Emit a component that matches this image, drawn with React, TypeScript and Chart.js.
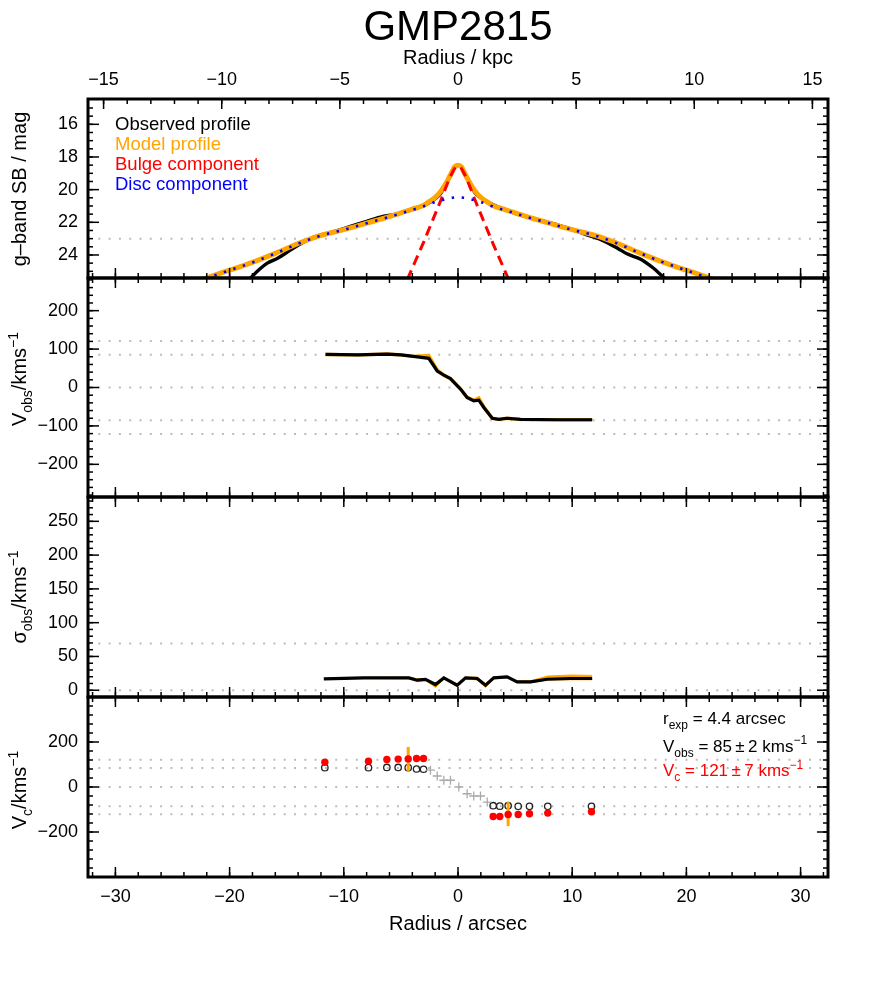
import React, { useEffect, useRef } from 'react';
import { Chart, registerables } from 'chart.js';

Chart.register(...registerables);

const FONT = '"Liberation Sans", Arial, Helvetica, sans-serif';

// ---------------- axes ----------------
const ARCSEC_MIN = -32.4;
const ARCSEC_MAX = 32.4;
const KPC_MIN = -15.66;
const KPC_MAX = 15.66;
const arcsecMajor = [-30, -20, -10, 0, 10, 20, 30];
const kpcMajor = [-15, -10, -5, 0, 5, 10, 15];
const sbMajor = [16, 18, 20, 22, 24];
const vobsMajor = [-200, -100, 0, 100, 200];
const sigmaMajor = [0, 50, 100, 150, 200, 250];
const vcMajor = [-200, 0, 200];

// ---------------- panel 1 : surface brightness ----------------
const sbModelRadius = [-23, -22, -20, -18, -16, -14, -12, -10, -8, -6, -5, -4, -3, -2.5, -2, -1.5, -1.25, -1, -0.7, -0.5, -0.3, 0, 0.3, 0.5, 0.7, 1, 1.25, 1.5, 2, 2.5, 3, 4, 5, 6, 8, 10, 12, 14, 16, 18, 20, 22, 23];
const sbModelMag = [25.62, 25.4, 24.93, 24.45, 23.9, 23.3, 22.8, 22.45, 22.05, 21.65, 21.42, 21.2, 20.95, 20.72, 20.48, 20.1, 19.85, 19.55, 19.15, 18.88, 18.6, 18.5, 18.6, 18.88, 19.15, 19.55, 19.85, 20.1, 20.48, 20.72, 20.95, 21.2, 21.42, 21.65, 22.05, 22.45, 22.8, 23.3, 23.9, 24.45, 24.93, 25.4, 25.62];
const sbDiscRadius = [-23, -22, -20, -18, -16, -14, -12, -10, -8, -6, -5, -4, -3, -2.5, -2, -1.5, -1, -0.5, 0, 0.5, 1, 1.5, 2, 2.5, 3, 4, 5, 6, 8, 10, 12, 14, 16, 18, 20, 22, 23];
const sbDiscMag = [25.63, 25.41, 24.94, 24.46, 23.91, 23.31, 22.81, 22.46, 22.06, 21.67, 21.45, 21.24, 21.02, 20.88, 20.76, 20.66, 20.57, 20.5, 20.47, 20.5, 20.57, 20.66, 20.76, 20.88, 21.02, 21.24, 21.45, 21.67, 22.06, 22.46, 22.81, 23.31, 23.91, 24.46, 24.94, 25.41, 25.63];
const sbBulgeRadius = [-5, -4.5, -4, -3.5, -3, -2.5, -2, -1.5, -1, -0.5, -0.25, 0, 0.25, 0.5, 1, 1.5, 2, 2.5, 3, 3.5, 4, 4.5, 5];
const sbBulgeMag = [26.4, 25.6, 24.8, 24.0, 23.2, 22.35, 21.5, 20.65, 19.75, 18.95, 18.66, 18.57, 18.66, 18.95, 19.75, 20.65, 21.5, 22.35, 23.2, 24.0, 24.8, 25.6, 26.4];
const sbObsRadius = [-18.6, -18.2, -17.5, -16.7, -15.8, -15, -14.4, -13.5, -12.6, -11, -10, -8.3, -6.8, -5.3, -4, -2.7, -2, -1.5, -1, -0.7, -0.5, -0.3, 0, 0.3, 0.5, 0.7, 1, 1.5, 2, 3, 4, 5, 6, 8, 9, 10, 11.3, 12.8, 14, 14.8, 16, 17.1, 18, 18.4];
const sbObsMag = [25.65, 25.43, 24.95, 24.5, 24.2, 23.85, 23.57, 23.2, 22.9, 22.6, 22.38, 22.0, 21.68, 21.48, 21.18, 20.88, 20.55, 20.22, 19.6, 19.2, 18.95, 18.62, 18.5, 18.62, 18.95, 19.2, 19.6, 20.2, 20.5, 20.9, 21.2, 21.45, 21.65, 22.02, 22.22, 22.45, 22.77, 23.15, 23.6, 23.93, 24.26, 24.8, 25.36, 25.6];
const sbRefLines = [23];

// ---------------- panel 2 : observed velocity ----------------
const velRadius = [-11.6, -8.8, -6.2, -5.0, -3.9, -2.56, -1.82, -1.24, -0.66, 0.22, 0.8, 1.38, 1.82, 2.26, 3.0, 3.57, 4.3, 5.47, 8.7, 11.75];
const velObs = [86, 85, 87, 85, 81, 76, 43, 32, 23, -4, -26, -35, -33, -52, -80, -83, -80, -83, -84, -84];
const velModel = [86, 85, 87, 85, 81, 83, 46, 32, 23, -4, -26, -33, -27, -50, -80, -83, -80, -83, -84, -84];
const velRefLines = [121, 85, 0, -85, -121];

// ---------------- panel 3 : velocity dispersion ----------------
const sigRadius = [-11.75, -8.25, -4.3, -3.57, -2.85, -1.97, -1.24, -0.07, 0.66, 1.68, 2.41, 3.13, 4.3, 5.18, 6.35, 7.81, 9.85, 11.75];
const sigObs = [16.8, 18.3, 18.3, 14.9, 16, 8.5, 18.3, 7.4, 18.3, 17.4, 7.4, 18.3, 19.8, 12.4, 12.4, 16.3, 17.4, 17.4];
const sigModelHigh = [17.5, 19, 19.5, 17, 17.5, 10, 19.5, 9, 19.5, 19.5, 9.5, 19.5, 21, 14, 14, 21, 22.5, 22];
const sigModelLow = [16, 17.5, 17, 12.5, 14.5, 4, 17, 5, 17.5, 15, 4, 17, 18.5, 11, 11, 15, 15.5, 15.5];
const sigRefLines = [69, 0];

// ---------------- panel 4 : circular velocity ----------------
const vcRadius = [-11.66, -7.84, -6.23, -5.24, -4.36, -3.63, -3.02, 3.08, 3.66, 4.39, 5.27, 6.26, 7.86, 11.69];
const vcValues = [110, 115, 122, 124, 125, 127, 127, -131, -131, -122, -122, -119, -116, -110];
const vcObsValues = [86, 86, 87, 87, 86, 80, 79, -83, -85, -83, -86, -86, -86, -86];
const innerRadius = [-2.41, -1.82, -1.24, -0.66, 0.07, 0.8, 1.38, 1.97, 2.56];
const innerValues = [75, 49, 30, 30, 0, -30, -40, -40, -67];
const rExpBarRadius = [-4.36, 4.39];
const rExpBarLow = [70, -174];
const rExpBarHigh = [178, -67];
const vcRefLines = [121, 85, 0, -85, -121];

// ---------------- helpers ----------------
type Seg = { t: string; s?: 'sub' | 'sup' };

const fmt = (v: number) => (v < 0 ? '\u2212' + Math.abs(v) : String(v));
const steps = (a: number, b: number, s: number) => {
  const out: number[] = [];
  for (let v = a; v <= b + 1e-9; v += s) out.push(Math.round(v * 1000) / 1000);
  return out;
};
const pts = (xs: number[], ys: number[]) => xs.map((x, i) => ({ x, y: ys[i] }));

function lineDs(data: any[], color: string, width: number, dash: number[] = [], extra: any = {}) {
  return {
    data,
    showLine: true,
    borderColor: color,
    backgroundColor: color,
    borderWidth: width,
    borderDash: dash,
    pointRadius: 0,
    pointHoverRadius: 0,
    tension: 0,
    fill: false,
    ...extra,
  };
}
const smooth = { cubicInterpolationMode: 'monotone' };
const refDs = (y: number) => lineDs(pts([ARCSEC_MIN, ARCSEC_MAX], [y, y]), '#bcbcbc', 2, [2, 8.3]);

function segFont(size: number, s?: string) {
  return `${s ? Math.round(size * 0.7) : size}px ${FONT}`;
}
function drawRich(ctx: CanvasRenderingContext2D, segs: Seg[], x: number, y: number, size: number, color: string, align: 'left' | 'center') {
  let w = 0;
  for (const g of segs) {
    ctx.font = segFont(size, g.s);
    w += ctx.measureText(g.t).width;
  }
  let cx = align === 'center' ? x - w / 2 : x;
  ctx.fillStyle = color;
  ctx.textAlign = 'left';
  ctx.textBaseline = 'alphabetic';
  for (const g of segs) {
    ctx.font = segFont(size, g.s);
    const dy = g.s === 'sub' ? size * 0.3 : g.s === 'sup' ? -size * 0.42 : 0;
    ctx.fillText(g.t, cx, y + dy);
    cx += ctx.measureText(g.t).width;
  }
}

type TextItem = { segs: Seg[]; x: number; y: number; size: number; color: string; align?: 'left' | 'center' };
type Deco = {
  top: number;
  yMajor: number[];
  yMinor: number[];
  kpcTop?: boolean;
  yTitle: Seg[];
  yTitleCy: number;
  texts?: TextItem[];
};

const arcsecMinor = steps(-32, 32, 2);
const kpcMinor = steps(-15, 15, 1);

function decoPlugin(d: Deco) {
  return {
    id: 'deco',
    afterDraw(chart: any) {
      const ctx: CanvasRenderingContext2D = chart.ctx;
      const a = chart.chartArea;
      const xs = chart.scales.x;
      const ys = chart.scales.y;
      ctx.save();
      ctx.strokeStyle = '#000';
      ctx.lineWidth = 1.5;
      const seg = (x1: number, y1: number, x2: number, y2: number) => {
        ctx.beginPath();
        ctx.moveTo(x1, y1);
        ctx.lineTo(x2, y2);
        ctx.stroke();
      };
      const yTick = (v: number, len: number) => {
        const p = ys.getPixelForValue(v);
        if (p < a.top + 1 || p > a.bottom - 1) return;
        seg(a.left, p, a.left + len, p);
        seg(a.right, p, a.right - len, p);
      };
      d.yMinor.forEach((v) => yTick(v, 5));
      d.yMajor.forEach((v) => yTick(v, 11));
      const xTick = (scale: any, v: number, len: number, edge: 'top' | 'bottom') => {
        const p = scale.getPixelForValue(v);
        if (p < a.left + 1 || p > a.right - 1) return;
        if (edge === 'bottom') seg(p, a.bottom, p, a.bottom - len);
        else seg(p, a.top, p, a.top + len);
      };
      arcsecMinor.forEach((v) => xTick(xs, v, 5, 'bottom'));
      arcsecMajor.forEach((v) => xTick(xs, v, 10, 'bottom'));
      if (d.kpcTop) {
        const ks = chart.scales.x2;
        kpcMinor.forEach((v) => xTick(ks, v, 5, 'top'));
        kpcMajor.forEach((v) => xTick(ks, v, 10, 'top'));
      } else {
        arcsecMinor.forEach((v) => xTick(xs, v, 5, 'top'));
        arcsecMajor.forEach((v) => xTick(xs, v, 10, 'top'));
      }
      ctx.lineWidth = 3;
      ctx.strokeRect(a.left, a.top, a.right - a.left, a.bottom - a.top);

      // y title (rotated)
      ctx.save();
      ctx.translate(26, d.yTitleCy - d.top);
      ctx.rotate(-Math.PI / 2);
      drawRich(ctx, d.yTitle, 0, 0, 20, '#000', 'center');
      ctx.restore();

      (d.texts || []).forEach((t) => drawRich(ctx, t.segs, t.x, t.y - d.top, t.size, t.color, t.align || 'left'));
      ctx.restore();
    },
  };
}

const zeroPad = (s: any) => {
  s.paddingTop = 0;
  s.paddingBottom = 0;
  s.paddingLeft = 0;
  s.paddingRight = 0;
};

function yScale(min: number, max: number, majors: number[], reverse = false) {
  return {
    type: 'linear',
    position: 'left',
    min,
    max,
    reverse,
    afterFit: (s: any) => {
      s.width = 70;
      zeroPad(s);
    },
    afterBuildTicks: (s: any) => {
      s.ticks = majors.map((v) => ({ value: v }));
    },
    ticks: { color: '#000', font: { family: FONT, size: 18 }, padding: 10, callback: (v: any) => fmt(Number(v)) },
    grid: { display: false, drawTicks: false },
    border: { display: false },
  };
}

const xHidden = { type: 'linear', min: ARCSEC_MIN, max: ARCSEC_MAX, display: false };

function baseOptions(padTop: number, padBottom: number, scales: any) {
  return {
    animation: false,
    responsive: false,
    maintainAspectRatio: false,
    events: [],
    layout: { padding: { left: 18, right: 44, top: padTop, bottom: padBottom } },
    plugins: { legend: { display: false }, tooltip: { enabled: false }, title: { display: false } },
    scales,
  };
}

// ---------------- chart configs ----------------
function cfgPanel1(): any {
  const top = 0;
  return {
    type: 'scatter',
    data: {
      datasets: [
        lineDs(pts(sbDiscRadius, sbDiscMag), '#0000ff', 2.6, [2.4, 7.6], smooth),
        lineDs(pts(sbBulgeRadius, sbBulgeMag), '#ff0000', 3, [10, 6], smooth),
        lineDs(pts(sbModelRadius, sbModelMag), '#ffa500', 5, [], smooth),
        lineDs(pts(sbObsRadius, sbObsMag), '#000000', 3.4, [], smooth),
        ...sbRefLines.map(refDs),
      ],
    },
    options: baseOptions(40, 12, {
      x: xHidden,
      x2: {
        type: 'linear',
        position: 'top',
        min: KPC_MIN,
        max: KPC_MAX,
        afterFit: (s: any) => {
          s.height = 59;
          zeroPad(s);
        },
        afterBuildTicks: (s: any) => {
          s.ticks = kpcMajor.map((v) => ({ value: v }));
        },
        ticks: { color: '#000', font: { family: FONT, size: 18 }, padding: 8, maxRotation: 0, callback: (v: any) => fmt(Number(v)) },
        grid: { display: false, drawTicks: false },
        border: { display: false },
        title: { display: true, text: 'Radius / kpc', color: '#000', font: { family: FONT, size: 20 }, padding: { top: 6, bottom: 0 } },
      },
      y: yScale(14.45, 25.41, sbMajor, true),
    }),
    plugins: [
      decoPlugin({
        top,
        yMajor: sbMajor,
        yMinor: steps(15, 25, 0.5),
        kpcTop: true,
        yTitle: [{ t: 'g\u2013band SB / mag' }],
        yTitleCy: 189,
        texts: [
          { segs: [{ t: 'GMP2815' }], x: 458, y: 40, size: 42, color: '#000', align: 'center' },
          { segs: [{ t: 'Observed profile' }], x: 115, y: 129.5, size: 18.5, color: '#000' },
          { segs: [{ t: 'Model profile' }], x: 115, y: 149.5, size: 18.5, color: '#ffa500' },
          { segs: [{ t: 'Bulge component' }], x: 115, y: 169.5, size: 18.5, color: '#ff0000' },
          { segs: [{ t: 'Disc component' }], x: 115, y: 189.5, size: 18.5, color: '#0000ff' },
        ],
      }),
    ],
  };
}

function cfgPanel2(): any {
  const top = 270;
  return {
    type: 'scatter',
    data: {
      datasets: [
        lineDs(pts(velRadius, velObs), '#000000', 3.2),
        lineDs(pts(velRadius, velModel), '#ffa500', 3.4),
        ...velRefLines.map(refDs),
      ],
    },
    options: baseOptions(8, 8, { x: xHidden, y: yScale(-285, 285, vobsMajor) }),
    plugins: [
      decoPlugin({
        top,
        yMajor: vobsMajor,
        yMinor: steps(-280, 280, 20),
        yTitle: [{ t: 'V' }, { t: 'obs', s: 'sub' }, { t: '/kms' }, { t: '\u22121', s: 'sup' }],
        yTitleCy: 379,
      }),
    ],
  };
}

function cfgPanel3(): any {
  const top = 489;
  return {
    type: 'scatter',
    data: {
      datasets: [
        lineDs(pts(sigRadius, sigObs), '#000000', 3.2),
        lineDs(pts(sigRadius, sigModelHigh), '#ffa500', 1, [], { fill: '+1', backgroundColor: '#ffa500' }),
        lineDs(pts(sigRadius, sigModelLow), '#ffa500', 1),
        ...sigRefLines.map(refDs),
      ],
    },
    options: baseOptions(8, 8, { x: xHidden, y: yScale(-10, 286, sigmaMajor) }),
    plugins: [
      decoPlugin({
        top,
        yMajor: sigmaMajor,
        yMinor: steps(0, 280, 10),
        yTitle: [{ t: '\u03c3' }, { t: 'obs', s: 'sub' }, { t: '/kms' }, { t: '\u22121', s: 'sup' }],
        yTitleCy: 597,
      }),
    ],
  };
}

function cfgPanel4(): any {
  const top = 689;
  return {
    type: 'scatter',
    data: {
      datasets: [
        {
          data: pts(vcRadius, vcValues),
          pointStyle: 'circle',
          pointRadius: 3.7,
          pointBackgroundColor: '#ff0000',
          pointBorderColor: '#ff0000',
          pointBorderWidth: 0,
        },
        ...rExpBarRadius.map((r, i) => lineDs(pts([r, r], [rExpBarLow[i], rExpBarHigh[i]]), '#ffa500', 3)),
        {
          data: pts(innerRadius, innerValues),
          pointStyle: 'cross',
          pointRadius: 4.5,
          pointBorderColor: '#aaaaaa',
          pointBackgroundColor: '#aaaaaa',
          pointBorderWidth: 1.3,
        },
        {
          data: pts(vcRadius, vcObsValues),
          pointStyle: 'circle',
          pointRadius: 3.2,
          pointBackgroundColor: 'rgba(0,0,0,0)',
          pointBorderColor: '#222222',
          pointBorderWidth: 1.3,
        },
        ...vcRefLines.map(refDs),
      ],
    },
    options: baseOptions(8, 54, {
      x: {
        type: 'linear',
        position: 'bottom',
        min: ARCSEC_MIN,
        max: ARCSEC_MAX,
        afterFit: (s: any) => {
          s.height = 65;
          zeroPad(s);
        },
        afterBuildTicks: (s: any) => {
          s.ticks = arcsecMajor.map((v) => ({ value: v }));
        },
        ticks: { color: '#000', font: { family: FONT, size: 18 }, padding: 9, maxRotation: 0, callback: (v: any) => fmt(Number(v)) },
        grid: { display: false, drawTicks: false },
        border: { display: false },
        title: { display: true, text: 'Radius / arcsec', color: '#000', font: { family: FONT, size: 20 }, padding: { top: 0, bottom: 6 } },
      },
      y: yScale(-400, 400, vcMajor),
    }),
    plugins: [
      decoPlugin({
        top,
        yMajor: vcMajor,
        yMinor: steps(-400, 400, 40),
        yTitle: [{ t: 'V' }, { t: 'c', s: 'sub' }, { t: '/kms' }, { t: '\u22121', s: 'sup' }],
        yTitleCy: 790,
        texts: [
          { segs: [{ t: 'r' }, { t: 'exp', s: 'sub' }, { t: ' = 4.4 arcsec' }], x: 663, y: 724, size: 17, color: '#000' },
          { segs: [{ t: 'V' }, { t: 'obs', s: 'sub' }, { t: ' = 85\u2009\u00b1\u20092 kms' }, { t: '\u22121', s: 'sup' }], x: 663, y: 751.5, size: 17, color: '#000' },
          { segs: [{ t: 'V' }, { t: 'c', s: 'sub' }, { t: ' = 121\u2009\u00b1\u20097 kms' }, { t: '\u22121', s: 'sup' }], x: 663, y: 776, size: 17, color: '#ff0000' },
        ],
      }),
    ],
  };
}

export default function App() {
  const c1 = useRef<HTMLCanvasElement>(null);
  const c2 = useRef<HTMLCanvasElement>(null);
  const c3 = useRef<HTMLCanvasElement>(null);
  const c4 = useRef<HTMLCanvasElement>(null);

  useEffect(() => {
    const charts: Chart[] = [];
    if (c1.current) charts.push(new Chart(c1.current, cfgPanel1()));
    if (c2.current) charts.push(new Chart(c2.current, cfgPanel2()));
    if (c3.current) charts.push(new Chart(c3.current, cfgPanel3()));
    if (c4.current) charts.push(new Chart(c4.current, cfgPanel4()));
    return () => charts.forEach((c) => c.destroy());
  }, []);

  const cs = (top: number, h: number): React.CSSProperties => ({ position: 'absolute', left: 0, top, width: 872, height: h });
  return (
    <div style={{ position: 'absolute', left: 0, top: 0, width: 872, height: 996, background: '#ffffff' }}>
      <canvas ref={c1} width={872} height={290} style={cs(0, 290)} />
      <canvas ref={c2} width={872} height={235} style={cs(270, 235)} />
      <canvas ref={c3} width={872} height={216} style={cs(489, 216)} />
      <canvas ref={c4} width={872} height={307} style={cs(689, 307)} />
    </div>
  );
}
